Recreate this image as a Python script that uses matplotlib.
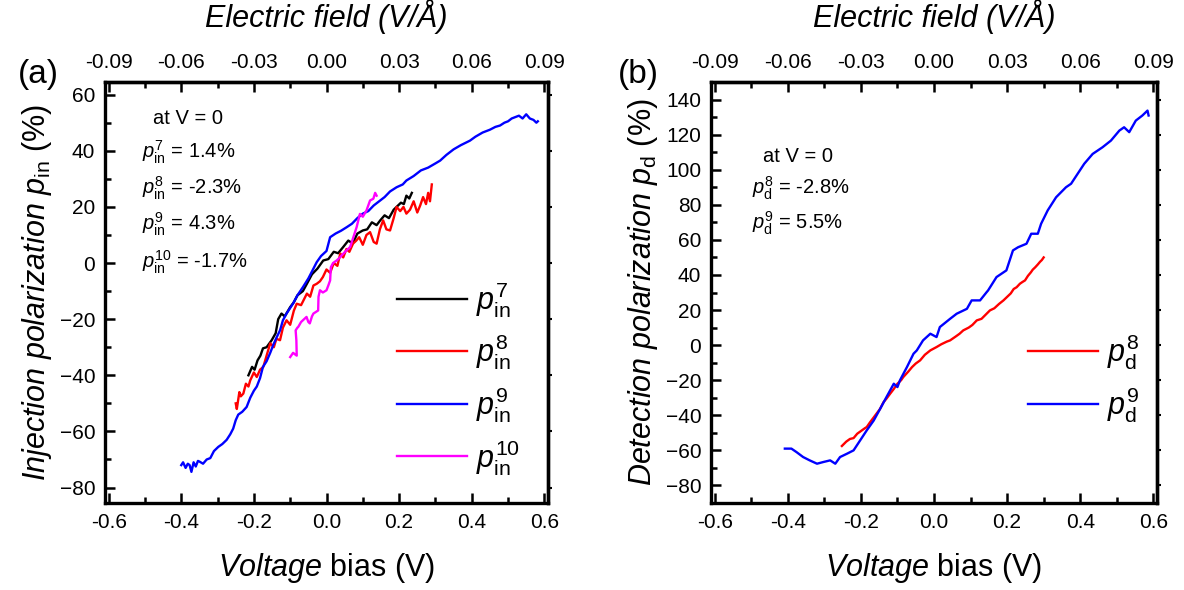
import numpy as np
import matplotlib
matplotlib.use("Agg")
import matplotlib.pyplot as plt
from matplotlib.ticker import MultipleLocator, FormatStrFormatter

plt.rcParams["font.family"] = ["Liberation Sans", "DejaVu Sans"]
plt.rcParams["mathtext.fontset"] = "custom"
plt.rcParams["mathtext.rm"] = "Liberation Sans"
plt.rcParams["mathtext.it"] = "Liberation Sans:italic"
plt.rcParams["mathtext.bf"] = "Liberation Sans:bold"

OUT_PATH = "out.png"

# ---- panel (a): injection polarization ----
v_in7 = [-0.215, -0.205, -0.198, -0.19, -0.182, -0.175, -0.165, -0.151, -0.14, -0.133,
         -0.124, -0.115, -0.1, -0.09, -0.08, -0.065, -0.054, -0.04, -0.025, -0.009,
         0.005, 0.02, 0.032, 0.046, 0.06, 0.072, 0.085, 0.1, 0.112, 0.125,
         0.138, 0.148, 0.16, 0.172, 0.185, 0.193, 0.205, 0.213, 0.22, 0.228, 0.235]
p_in7 = [-40, -37, -38, -34.7, -33, -30.4, -30, -27.5, -25, -20,
         -18, -19, -15.7, -14, -11.5, -10, -7.4, -4, -2, 0.9,
         1.4, 4, 3.5, 5.7, 8, 7, 10.5, 11.6, 12, 14.5,
         13.5, 15.2, 17, 16, 19, 20, 21.5, 21, 24, 23, 25]

v_in8 = [-0.25, -0.247, -0.24, -0.236, -0.229, -0.222, -0.215, -0.21, -0.2, -0.192,
         -0.183, -0.174, -0.165, -0.155, -0.145, -0.138, -0.128, -0.12, -0.11, -0.1,
         -0.09, -0.082, -0.07, -0.054, -0.045, -0.036, -0.027, -0.018, -0.01, 0.0,
         0.01, 0.02, 0.03, 0.038, 0.046, 0.055, 0.063, 0.073, 0.082, 0.09,
         0.1, 0.11, 0.12, 0.13, 0.138, 0.147, 0.156, 0.165, 0.175, 0.185,
         0.193, 0.203, 0.212, 0.22, 0.23, 0.24, 0.25, 0.258, 0.266, 0.274,
         0.28, 0.285, 0.29]
p_in8 = [-50, -52, -46, -47.5, -46.5, -43, -44, -41.8, -39, -40.6,
         -38, -37, -33, -28.6, -30, -27, -27.5, -23, -20.4, -22,
         -17, -14.5, -15, -10.9, -12, -8, -7.4, -6.5, -5, -2.3,
         -3.5, 0, -1, 3.4, 2, 5, 4, 6.9, 8, 9.2,
         6.5, 10, 11, 7.5, 6.9, 12, 15.2, 12, 11.6, 16,
         20, 18.5, 20, 17.6, 19, 22, 18, 20.5, 23.5, 21,
         25, 22, 28]

v_in9 = [-0.4, -0.395, -0.388, -0.382, -0.377, -0.372, -0.366, -0.36, -0.354, -0.349,
         -0.34, -0.33, -0.32, -0.31, -0.298, -0.287, -0.275, -0.265, -0.257, -0.25,
         -0.243, -0.232, -0.22, -0.21, -0.2, -0.192, -0.183, -0.175, -0.165, -0.155,
         -0.146, -0.137, -0.128, -0.12, -0.11, -0.1, -0.092, -0.08, -0.065, -0.05,
         -0.04, -0.027, -0.015, 0.0, 0.01, 0.025, 0.04, 0.056, 0.07, 0.085,
         0.1, 0.115, 0.13, 0.148, 0.16, 0.175, 0.193, 0.21, 0.22, 0.24,
         0.26, 0.28, 0.3, 0.313, 0.33, 0.35, 0.37, 0.395, 0.41, 0.43,
         0.45, 0.465, 0.478, 0.49, 0.5, 0.51, 0.52, 0.53, 0.54, 0.55,
         0.56, 0.57, 0.578, 0.582]
p_in9 = [-72, -71, -73, -71.5, -72, -74.4, -71, -72.5, -70.5, -70.8,
         -71.5, -70, -69.5, -67, -65.5, -64.5, -63, -61, -59, -56,
         -54, -53, -51.3, -48, -45.5, -44, -41, -37, -35, -32,
         -29, -26.4, -24, -20.4, -18, -16, -14.4, -11.5, -8.6, -5.5,
         -3, 0.3, 2.5, 4.3, 9.2, 10.5, 11.5, 12.8, 14, 16,
         17.6, 18.5, 20.5, 22.3, 23.5, 25.5, 27, 28, 29.4, 31,
         33, 34, 35.5, 36.5, 38.5, 40.5, 42, 43.6, 45, 46.5,
         47.5, 48.5, 49, 50, 50.5, 51.5, 52, 52.5, 51.5, 53,
         51.5, 51, 50, 50.5]

v_in10 = [-0.1, -0.092, -0.082, -0.083, -0.085, -0.08, -0.078, -0.07, -0.065, -0.055,
          -0.05, -0.046, -0.04, -0.036, -0.03, -0.023, -0.022, -0.018, -0.01, 0.0,
          0.005, 0.01, 0.012, 0.018, 0.028, 0.037, 0.046, 0.055, 0.065, 0.074,
          0.083, 0.092, 0.1, 0.11, 0.12, 0.129, 0.134, 0.138]
p_in10 = [-33.5, -32, -33, -27.5, -24, -23, -22.8, -21, -20.4, -19.2,
          -21, -21.5, -19, -18, -17.5, -16.9, -12, -9.7, -10.5, -9.7,
          -8, -6.2, -1.5, 0, 0.9, 2, 3.3, 4.5, 5.7, 9.2,
          12.8, 17.5, 16.5, 18.7, 22.3, 22.9, 25, 24]

# ---- panel (b): detection polarization ----
v_d8 = [-0.252, -0.24, -0.23, -0.22, -0.21, -0.2, -0.19, -0.184, -0.175, -0.166,
        -0.157, -0.148, -0.138, -0.13, -0.12, -0.11, -0.1, -0.09, -0.084, -0.07,
        -0.06, -0.05, -0.038, -0.025, -0.01, 0.007, 0.02, 0.035, 0.044, 0.06,
        0.07, 0.08, 0.095, 0.105, 0.117, 0.13, 0.142, 0.153, 0.165, 0.178,
        0.19, 0.2, 0.21, 0.218, 0.226, 0.235, 0.242, 0.249, 0.257, 0.265,
        0.27, 0.277, 0.284, 0.29, 0.295, 0.3]
p_d8 = [-57.5, -55, -53.5, -53, -50.5, -49, -47.5, -46.7, -44, -41.5,
        -39, -36.5, -32.5, -30.5, -27.7, -25, -22, -20, -18.2, -15,
        -12.5, -10.5, -8.7, -5.5, -3, -1.1, 0.5, 2, 2.7, 5,
        6.5, 8.4, 10, 11.5, 14.1, 15, 17.5, 19.8, 21, 23.5,
        25.5, 27.5, 29.5, 32, 33, 35, 36, 36.9, 39.5, 41.5,
        43, 44.4, 46, 47.5, 48.5, 50]

v_d9 = [-0.408, -0.39, -0.376, -0.358, -0.34, -0.32, -0.302, -0.284, -0.27, -0.257,
        -0.238, -0.22, -0.202, -0.184, -0.165, -0.147, -0.13, -0.11, -0.1, -0.093,
        -0.074, -0.056, -0.047, -0.03, -0.01, 0.007, 0.016, 0.044, 0.062, 0.09,
        0.103, 0.126, 0.144, 0.148, 0.171, 0.198, 0.216, 0.23, 0.253, 0.266,
        0.284, 0.293, 0.311, 0.334, 0.361, 0.375, 0.393, 0.411, 0.434, 0.461,
        0.484, 0.507, 0.52, 0.534, 0.552, 0.57, 0.584, 0.587]
p_d9 = [-59, -59, -61, -63.8, -65.7, -67.6, -66.6, -65.7, -67.6, -63.8,
        -61.9, -60, -54.3, -48.6, -43, -36.2, -29.6, -22, -23.9, -20,
        -12.5, -4.9, -3, 2.7, 6.5, 4.6, 10.3, 15, 17.9, 20.7,
        25.5, 25.5, 30.2, 31.2, 38.8, 42.6, 54, 55.8, 57.8, 63.5,
        63.5, 69.2, 76.8, 84.3, 90, 92, 97.7, 103.4, 109, 112.8,
        116.6, 122.3, 124.2, 121.4, 128, 130.9, 133.7, 130.9]

e_ticks = [-0.09, -0.06, -0.03, 0.0, 0.03, 0.06, 0.09]
v_to_e = 0.15  # V -> V/A

fig = plt.figure(figsize=(11.84, 5.9), dpi=100)
ax1 = fig.add_axes([105 / 1184, 1 - 503 / 590, 443 / 1184, 421 / 590])
ax2 = fig.add_axes([711 / 1184, 1 - 503 / 590, 446 / 1184, 421 / 590])

TICK_FS = 15
LABEL_FS = 22


def style_axes(ax, ylim, ymajor):
    ax.set_xlim(-0.61, 0.61)
    ax.set_ylim(*ylim)
    ax.xaxis.set_major_locator(MultipleLocator(0.2))
    ax.xaxis.set_minor_locator(MultipleLocator(0.1))
    ax.xaxis.set_major_formatter(FormatStrFormatter("%.1f"))
    ax.yaxis.set_major_locator(MultipleLocator(ymajor))
    ax.yaxis.set_minor_locator(MultipleLocator(ymajor / 2))
    ax.tick_params(which="both", direction="in", width=1.8, labelsize=TICK_FS,
                   top=False, right=False)
    ax.tick_params(which="major", length=7, pad=7)
    ax.tick_params(which="minor", length=4)
    for s in ax.spines.values():
        s.set_linewidth(2.4)
    ax.set_xlabel(r"$Voltage$ bias (V)", fontsize=LABEL_FS, labelpad=14)

    top = ax.secondary_xaxis("top", functions=(lambda v: v * v_to_e, lambda e: e / v_to_e))
    top.set_xticks(e_ticks)
    top.xaxis.set_minor_locator(MultipleLocator(0.015))
    top.xaxis.set_major_formatter(FormatStrFormatter("%.2f"))
    top.tick_params(which="both", direction="in", width=1.8, labelsize=TICK_FS)
    top.tick_params(which="major", length=7, pad=7)
    top.tick_params(which="minor", length=4)
    top.spines["top"].set_linewidth(2.4)
    top.set_xlabel("Electric field (V/Å)", fontsize=LABEL_FS, style="italic", labelpad=19)

    right = ax.secondary_yaxis("right")
    right.yaxis.set_major_locator(MultipleLocator(ymajor))
    right.tick_params(direction="out", length=3, width=1.5, labelright=False)
    right.spines["right"].set_linewidth(2.4)


style_axes(ax1, (-85.5, 64.5), 20)
style_axes(ax2, (-90, 150), 20)

lw = 1.7
ax1.plot(v_in7, p_in7, color="black", lw=lw, label=r"$p_{\mathrm{in}}^{7}$")
ax1.plot(v_in8, p_in8, color="red", lw=lw, label=r"$p_{\mathrm{in}}^{8}$")
ax1.plot(v_in9, p_in9, color="blue", lw=lw, label=r"$p_{\mathrm{in}}^{9}$")
ax1.plot(v_in10, p_in10, color="magenta", lw=lw, label=r"$p_{\mathrm{in}}^{10}$")

ax2.plot(v_d8, p_d8, color="red", lw=lw, label=r"$p_{\mathrm{d}}^{8}$")
ax2.plot(v_d9, p_d9, color="blue", lw=lw, label=r"$p_{\mathrm{d}}^{9}$")

ax1.set_ylabel(r"$Injection\ polarization\ p_{\mathrm{in}}$ (%)", fontsize=LABEL_FS, labelpad=4)
ax2.set_ylabel(r"$Detection\ polarization\ p_{\mathrm{d}}$ (%)", fontsize=LABEL_FS, labelpad=4)

ax1.legend(loc="lower right", bbox_to_anchor=(1.0, -0.005), frameon=False, fontsize=22,
           handlelength=2.3, handletextpad=0.3, labelspacing=0.42)
ax2.legend(loc="center right", bbox_to_anchor=(1.022, 0.295), frameon=False, fontsize=22,
           handlelength=2.3, handletextpad=0.3, labelspacing=0.42)

ANN_FS = 14.5
ax1.text(0.108, 0.914, "at V = 0", transform=ax1.transAxes, fontsize=ANN_FS, va="center")
ann_a = [r"$p_{\mathrm{in}}^{7}$ = 1.4%", r"$p_{\mathrm{in}}^{8}$ = -2.3%",
         r"$p_{\mathrm{in}}^{9}$ = 4.3%", r"$p_{\mathrm{in}}^{10}$ = -1.7%"]
for t, yy in zip(ann_a, [0.834, 0.748, 0.663, 0.572]):
    ax1.text(0.083, yy, t, transform=ax1.transAxes, fontsize=ANN_FS, va="center")

ax2.text(0.117, 0.822, "at V = 0", transform=ax2.transAxes, fontsize=ANN_FS, va="center")
ann_b = [r"$p_{\mathrm{d}}^{8}$ = -2.8%", r"$p_{\mathrm{d}}^{9}$ = 5.5%"]
for t, yy in zip(ann_b, [0.748, 0.665]):
    ax2.text(0.092, yy, t, transform=ax2.transAxes, fontsize=ANN_FS, va="center")

fig.text(18 / 1184, 1 - 75 / 590, "(a)", fontsize=24, va="center")
fig.text(618 / 1184, 1 - 75 / 590, "(b)", fontsize=24, va="center")

fig.savefig(OUT_PATH, dpi=100)
print(f"saved: {OUT_PATH}")
